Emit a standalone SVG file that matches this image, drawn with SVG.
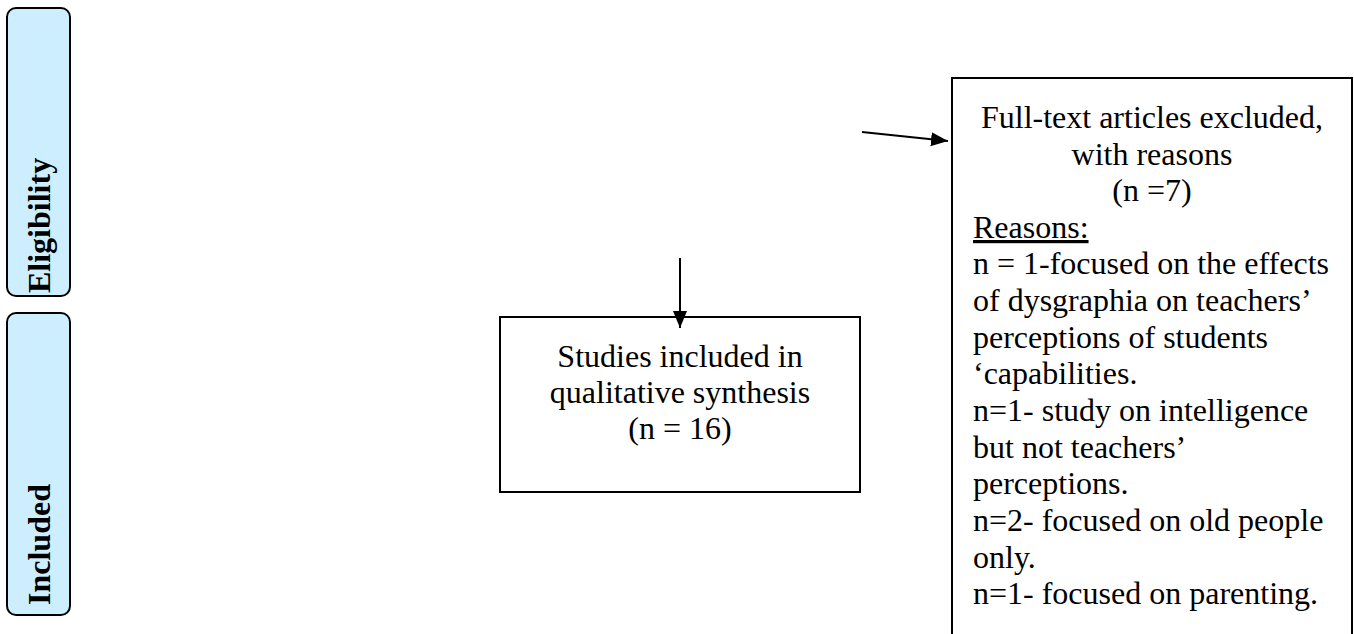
<svg xmlns="http://www.w3.org/2000/svg" width="1354" height="634" viewBox="0 0 1354 634">
<style>
.phase{fill:#cdeeff;stroke:#000;stroke-width:2}
.box{fill:#fff;stroke:#000;stroke-width:2}
.pt{font-family:"Liberation Serif","Times New Roman",serif;font-weight:bold;font-size:32px;fill:#000}
.t{font-family:"Liberation Serif","Times New Roman",serif;font-size:32px;fill:#000}
.c{text-anchor:middle}
.edge{stroke:#000;stroke-width:2;fill:none}
</style>
<defs>
<marker id="ah" markerUnits="userSpaceOnUse" markerWidth="18" markerHeight="16" refX="17" refY="7" orient="auto">
<path d="M0,0 L17,7 L0,14 Z" fill="#000"/>
</marker>
</defs>
<g id="phase-eligibility">
<rect class="phase" x="7" y="8" width="63" height="288" rx="9"/>
<text class="pt" transform="translate(50,293) rotate(-90)">Eligibility</text>
</g>
<g id="phase-included">
<rect class="phase" x="7" y="313" width="63" height="302" rx="9"/>
<text class="pt" transform="translate(50,605) rotate(-90)">Included</text>
</g>
<g id="node-included">
<rect class="box" x="500" y="317" width="360" height="175"/>
<text class="t c" x="680" y="367">Studies included in</text>
<text class="t c" x="680" y="403">qualitative synthesis</text>
<text class="t c" x="680" y="439">(n = 16)</text>
</g>
<g id="node-excluded">
<rect class="box" x="952" y="78" width="400" height="580"/>
<text class="t c" x="1152" y="128">Full-text articles excluded,</text>
<text class="t c" x="1152" y="165">with reasons</text>
<text class="t c" x="1152" y="201">(n =7)</text>
<text class="t" x="973" y="238" text-decoration="underline">Reasons:</text>
<text class="t" x="973" y="274">n = 1-focused on the effects</text>
<text class="t" x="973" y="311">of dysgraphia on teachers’</text>
<text class="t" x="973" y="348">perceptions of students</text>
<text class="t" x="973" y="384">‘capabilities.</text>
<text class="t" x="973" y="421">n=1- study on intelligence</text>
<text class="t" x="973" y="458">but not teachers’</text>
<text class="t" x="973" y="494">perceptions.</text>
<text class="t" x="973" y="531">n=2- focused on old people</text>
<text class="t" x="973" y="568">only.</text>
<text class="t" x="973" y="604">n=1- focused on parenting.</text>
</g>
<g id="connectors">
<line class="edge" x1="680" y1="258" x2="680" y2="328" marker-end="url(#ah)"/>
<line class="edge" x1="862" y1="132" x2="948" y2="141" marker-end="url(#ah)"/>
</g>
</svg>
